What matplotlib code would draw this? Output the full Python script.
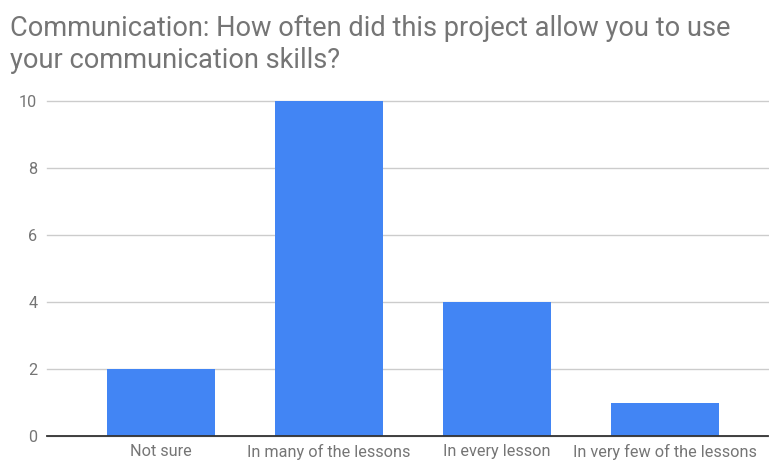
import matplotlib.pyplot as plt

categories = ["Not sure", "In many of the lessons", "In every lesson", "In very few of the lessons"]
counts = [2, 10, 4, 1]
y_ticks = [0, 2, 4, 6, 8, 10]

plt.rcParams['font.family'] = ['Roboto', 'DejaVu Sans']

fig = plt.figure(figsize=(7.69, 4.61), dpi=100)
ax = fig.add_axes([47 / 769, 1 - 436 / 461, (768 - 47) / 769, (436 - 101) / 461])

x = list(range(len(categories)))
ax.bar(x, counts, width=108 / 168, color='#4285f4', zorder=3)

ax.set_xlim(-(161 - 47) / 168, 3 + (768 - 665) / 168)
ax.set_ylim(0, 10)
ax.set_yticks(y_ticks)
ax.set_yticklabels([str(t) for t in y_ticks])
ax.set_xticks(x)
ax.set_xticklabels(categories)

ax.grid(axis='y', color='#cccccc', linewidth=1, zorder=0)
for line in ax.get_ygridlines():
    line.set_clip_on(False)

for side in ['top', 'right', 'left']:
    ax.spines[side].set_visible(False)
ax.spines['bottom'].set_color('#333333')
ax.spines['bottom'].set_linewidth(1.3)
ax.spines['bottom'].set_zorder(4)

ax.tick_params(axis='both', length=0, labelsize=11.7, labelcolor='#757575')
ax.tick_params(axis='y', pad=7)
ax.tick_params(axis='x', pad=6)

title_lines = ["Communication: How often did this project allow you to use",
               "your communication skills?"]
for i, line in enumerate(title_lines):
    fig.text(10 / 769, 1 - (36 + 32 * i) / 461, line,
             ha='left', va='baseline', fontsize=19.6, color='#757575')

fig.savefig('out.png', dpi=100)
